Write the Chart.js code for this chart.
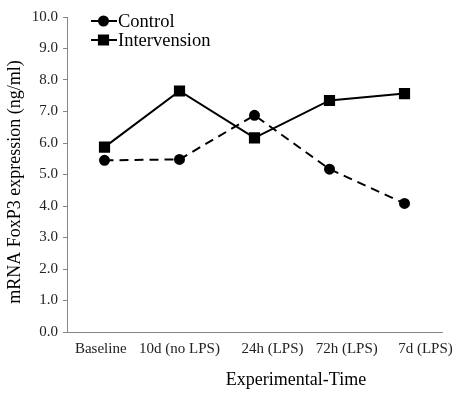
<!DOCTYPE html>
<html>
<head>
<meta charset="utf-8">
<script src="https://cdn.jsdelivr.net/npm/chart.js@4/dist/chart.umd.min.js"></script>
<style>
html,body{margin:0;padding:0;background:#fff;}
#wrap{width:460px;height:395px;position:relative;}
</style>
</head>
<body>
<div id="wrap"><canvas id="c" width="460" height="395"></canvas></div>
<script>
const categories = ["Baseline", "10d (no LPS)", "24h (LPS)", "72h (LPS)", "7d (LPS)"];
const controlValues = [5.45, 5.48, 6.88, 5.17, 4.08];
const interventionValues = [5.87, 7.65, 6.16, 7.35, 7.57];
const seriesNames = ["Control", "Intervension"];
const yTitle = "mRNA FoxP3 expression (ng/ml)";
const xTitle = "Experimental-Time";

// layout/style only: horizontal shift of each category label (in category widths), as in the original figure
const LABEL_SHIFT = [-0.05, 0, 0.24, 0.23, 0.28];

const serif = "'Liberation Serif', 'Times New Roman', serif";

const legendPlugin = {
  id: 'inlineLegend',
  afterDraw(chart) {
    const ctx = chart.ctx;
    const x0 = 91, x1 = 117, mx = 103.5;
    const rows = [21, 40];
    chart.data.datasets.forEach((ds, i) => {
      const y = rows[i];
      ctx.save();
      ctx.strokeStyle = '#000';
      ctx.lineWidth = 2;
      ctx.setLineDash([]);
      ctx.beginPath();
      ctx.moveTo(x0, y);
      ctx.lineTo(x1, y);
      ctx.stroke();
      Chart.helpers.drawPoint(ctx, {pointStyle: ds.pointStyle, radius: ds.pointRadius, borderWidth: 1}, mx, y);
      ctx.fillStyle = '#000';
      ctx.fill();
      ctx.font = "18.5px " + serif;
      ctx.fillStyle = '#000';
      ctx.textBaseline = 'middle';
      ctx.textAlign = 'left';
      ctx.fillText(ds.label, x1 + 1, y + 1);
      ctx.restore();
    });
  }
};

const titlePlugin = {
  id: 'axisTitles',
  afterDraw(chart) {
    const ctx = chart.ctx;
    ctx.save();
    ctx.fillStyle = '#000';
    ctx.font = "18px " + serif;
    ctx.textAlign = 'center';
    ctx.textBaseline = 'middle';
    ctx.fillText(xTitle, 296, 380);
    ctx.translate(15, 182);
    ctx.rotate(-Math.PI / 2);
    ctx.fillText(yTitle, 0, 0);
    ctx.restore();
  }
};

new Chart(document.getElementById('c'), {
  type: 'line',
  data: {
    labels: categories,
    datasets: [
      {
        label: seriesNames[0],
        data: controlValues,
        borderColor: '#000',
        backgroundColor: '#000',
        borderWidth: 2,
        borderDash: [9, 6],
        pointStyle: 'circle',
        pointRadius: 4.5,
        pointBackgroundColor: '#000',
        pointBorderColor: '#000',
        tension: 0
      },
      {
        label: seriesNames[1],
        data: interventionValues,
        borderColor: '#000',
        backgroundColor: '#000',
        borderWidth: 2,
        pointStyle: 'rect',
        pointRadius: 6.5,
        pointBackgroundColor: '#000',
        pointBorderColor: '#000',
        tension: 0
      }
    ]
  },
  options: {
    responsive: false,
    animation: false,
    layout: {padding: {left: 0, right: 18, top: 17, bottom: 0}},
    plugins: {legend: {display: false}, tooltip: {enabled: false}},
    scales: {
      x: {
        type: 'category',
        offset: true,
        display: false
      },
      xl: {
        type: 'linear',
        axis: 'x',
        position: 'bottom',
        min: -0.5,
        max: categories.length - 0.5,
        grid: {display: true, drawOnChartArea: false, drawTicks: false},
        border: {display: true, color: '#868686', width: 1},
        afterBuildTicks(scale) {
          scale.ticks = categories.map((c, i) => ({value: i + LABEL_SHIFT[i]}));
        },
        ticks: {color: '#222', font: {family: serif, size: 15}, padding: 8, maxRotation: 0, autoSkip: false,
          callback: (v, i) => categories[i]},
        title: {display: false},
        afterFit(scale) { scale.height = 63; scale.paddingLeft = 0; scale.paddingRight = 0; }
      },
      y: {
        min: 0, max: 10,
        ticks: {stepSize: 1, color: '#222', font: {family: serif, size: 15}, padding: 5,
          callback: v => Number(v).toFixed(1)},
        grid: {display: true, drawOnChartArea: false, drawTicks: true, tickLength: 4, color: '#868686'},
        border: {display: true, color: '#868686', width: 1},
        title: {display: false},
        afterFit(scale) { scale.width = 67; scale.paddingTop = 0; scale.paddingBottom = 0; }
      }
    }
  },
  plugins: [legendPlugin, titlePlugin]
});
</script>
</body>
</html>
